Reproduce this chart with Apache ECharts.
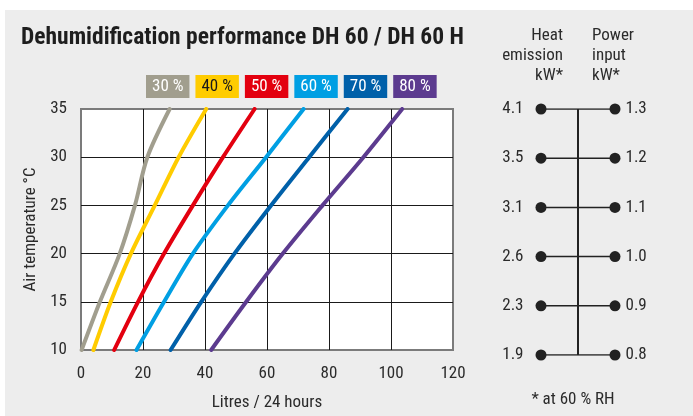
<!DOCTYPE html>
<html>
<head>
<meta charset="utf-8">
<script src="https://cdn.jsdelivr.net/npm/echarts@6/dist/echarts.min.js"></script>
<style>
  html, body { margin: 0; padding: 0; background: #fff; }
  #chart {
    width: 693px; height: 416px;
    background: linear-gradient(#ededed, #ededed) no-repeat 5px 10px / 688px 406px, #fff;
  }
</style>
</head>
<body>
<div id="chart"></div>
<script>
// 温度 (°C) 对应每条曲线的 升/24小时
var temps = [10, 15, 20, 25, 30, 35];
var rh30 = [0.2, 6.1, 12.5, 17.4, 21.4, 28.6];
var rh40 = [4.0, 9.6, 16.1, 23.8, 31.5, 40.4];
var rh50 = [10.7, 18.4, 26.8, 36.1, 45.8, 56.0];
var rh60 = [17.9, 26.8, 36.1, 47.4, 59.7, 71.8];
var rh70 = [28.9, 38.8, 49.5, 61.3, 73.6, 86.0];
var rh80 = [42.0, 53.3, 65.1, 77.9, 91.1, 103.6];
var rhNames = ['30 %', '40 %', '50 %', '60 %', '70 %', '80 %'];
var rhColors = ['#a19e8e', '#ffcc00', '#e3000f', '#009fe3', '#0060a9', '#5c3b8f'];
var rhTextColors = ['#fff', '#1a1a1a', '#fff', '#fff', '#fff', '#fff'];

// 右侧：热量输出 / 功率输入 (kW)
var heatKw = [1.9, 2.3, 2.6, 3.1, 3.5, 4.1];
var powerKw = [0.8, 0.9, 1.0, 1.1, 1.2, 1.3];

var FONT = '"Liberation Sans Narrow", "Roboto Condensed", "DejaVu Sans Condensed", sans-serif';
var INK = '#222';

var chart = echarts.init(document.getElementById('chart'));

var curves = [rh30, rh40, rh50, rh60, rh70, rh80];
var series = curves.map(function (vals, i) {
    return {
        name: rhNames[i],
        type: 'line',
        xAxisIndex: 0,
        yAxisIndex: 0,
        smooth: 0.3,
        showSymbol: false,
        symbol: 'none',
        color: rhColors[i],
        lineStyle: { width: 4, cap: 'round' },
        data: vals.map(function (v, j) { return [v, temps[j]]; })
    };
});

// 右侧每一行的横线 + 两端圆点
temps.forEach(function (t, j) {
    series.push({
        type: 'line',
        xAxisIndex: 1,
        yAxisIndex: 1,
        symbol: 'circle',
        symbolSize: 11,
        color: INK,
        lineStyle: { width: 1.5, color: INK },
        label: {
            show: true,
            fontFamily: FONT,
            fontSize: 17,
            color: '#2b2b2b'
        },
        data: [
            { value: [0, t], label: { position: 'left', distance: 12, formatter: heatKw[j].toFixed(1) } },
            { value: [1, t], label: { position: 'right', distance: 5, formatter: powerKw[j].toFixed(1) } }
        ]
    });
});
// 中间竖线
series.push({
    type: 'line',
    xAxisIndex: 1,
    yAxisIndex: 1,
    symbol: 'none',
    lineStyle: { width: 2, color: INK },
    data: [[0.5, temps[0]], [0.5, temps[temps.length - 1]]]
});

chart.setOption({
    animation: false,
    textStyle: { fontFamily: FONT },
    legend: {
        left: 136,
        top: 70,
        icon: 'none',
        itemWidth: 0,
        itemHeight: 0,
        itemGap: 1,
        selectedMode: false,
        data: rhNames.map(function (n, i) {
            return {
                name: n,
                textStyle: {
                    backgroundColor: rhColors[i],
                    color: rhTextColors[i],
                    fontSize: 17,
                    fontFamily: FONT,
                    padding: [3, 6, 2, 6],
                    lineHeight: 18
                }
            };
        })
    },
    grid: [
        { left: 81, right: 240, top: 109, bottom: 61, show: true, backgroundColor: '#fff', borderColor: '#7b7b7b', borderWidth: 2 },
        { left: 541, right: 78, top: 109, bottom: 61 }
    ],
    xAxis: [
        {
            type: 'value', gridIndex: 0, min: 0, max: 120, interval: 20,
            name: 'Litres / 24 hours', nameLocation: 'middle', nameGap: 44,
            nameTextStyle: { fontSize: 17, color: '#2b2b2b', fontFamily: FONT },
            axisLine: { show: false },
            axisTick: { show: false },
            axisLabel: { fontSize: 17, color: '#2b2b2b', margin: 15, fontFamily: FONT },
            splitLine: { show: true, showMinLine: false, showMaxLine: false, lineStyle: { color: '#1a1a1a', width: 1 } }
        },
        { type: 'value', gridIndex: 1, min: 0, max: 1, show: false }
    ],
    yAxis: [
        {
            type: 'value', gridIndex: 0, min: 10, max: 35, interval: 5,
            name: 'Air temperature °C', nameLocation: 'middle', nameGap: 42,
            nameTextStyle: { fontSize: 17, color: '#2b2b2b', fontFamily: FONT },
            axisLine: { show: false },
            axisTick: { show: false },
            axisLabel: { fontSize: 17, color: '#2b2b2b', margin: 14, fontFamily: FONT },
            splitLine: { show: true, showMinLine: false, showMaxLine: false, lineStyle: { color: '#1a1a1a', width: 1 } }
        },
        { type: 'value', gridIndex: 1, min: 10, max: 35, show: false }
    ],
    graphic: [
        {
            type: 'text', x: 21, y: 38,
            style: { text: 'Dehumidification performance DH 60 / DH 60 H', font: 'bold 23.5px ' + FONT, fill: '#1e1e1e', textVerticalAlign: 'middle' }
        },
        {
            type: 'text', x: 563, y: 26,
            style: { text: 'Heat\nemission\nkW*', font: '17px ' + FONT, fill: '#2b2b2b', textAlign: 'right', textVerticalAlign: 'top', lineHeight: 20 }
        },
        {
            type: 'text', x: 592, y: 26,
            style: { text: 'Power\ninput\nkW*', font: '17px ' + FONT, fill: '#2b2b2b', textAlign: 'left', textVerticalAlign: 'top', lineHeight: 20 }
        },
        {
            type: 'text', x: 573, y: 400,
            style: { text: '* at 60 % RH', font: '17px ' + FONT, fill: '#2b2b2b', textAlign: 'center', textVerticalAlign: 'middle' }
        }
    ],
    series: series
});
</script>
</body>
</html>
